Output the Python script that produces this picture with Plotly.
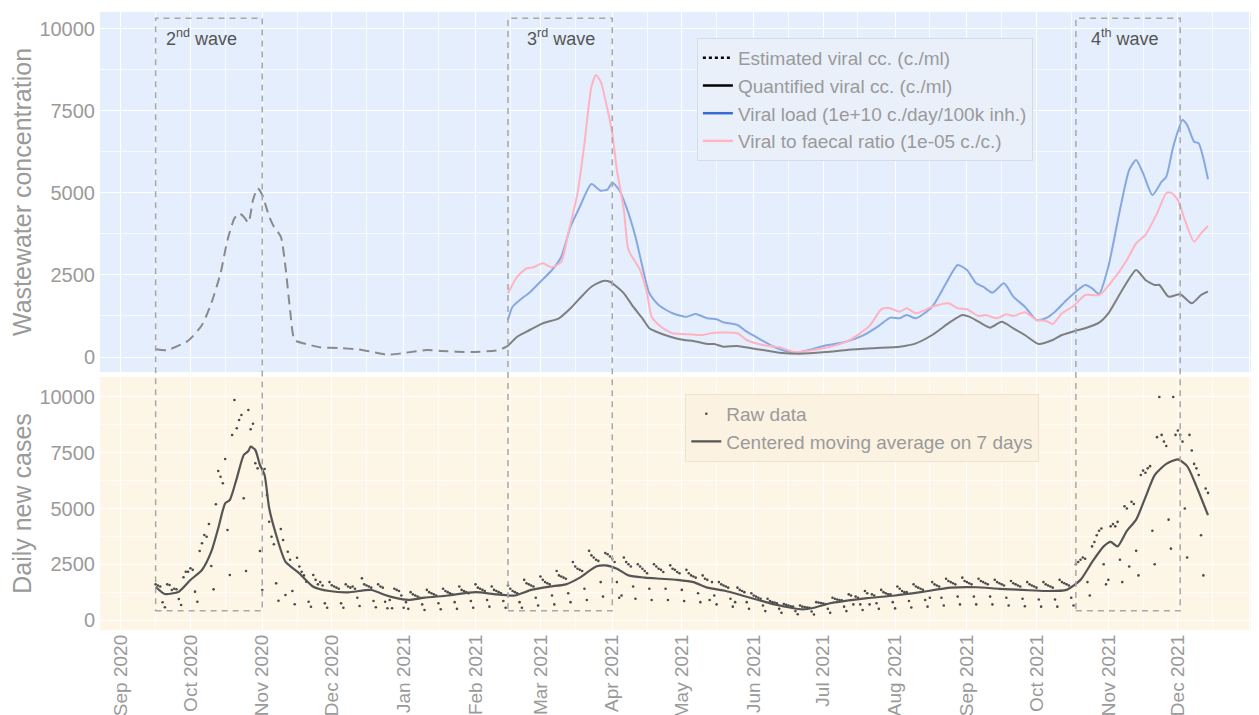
import plotly.graph_objects as go
import pandas as pd

# ---------------- Top panel: wastewater ----------------
est_dates = ["2020-09-16", "2020-09-21", "2020-09-30", "2020-10-06", "2020-10-10", "2020-10-14",
             "2020-10-17", "2020-10-20", "2020-10-22", "2020-10-24", "2020-10-26", "2020-10-28",
             "2020-10-30", "2020-11-01", "2020-11-04", "2020-11-06", "2020-11-09", "2020-11-11",
             "2020-11-13", "2020-11-15", "2020-11-20", "2020-11-26", "2020-12-05", "2020-12-12",
             "2020-12-18", "2020-12-25", "2021-01-02", "2021-01-11", "2021-01-17", "2021-01-30",
             "2021-02-11", "2021-02-15"]
est_vals = [235, 213, 497, 975, 1637, 2552, 3567, 4228, 4380, 4278, 4095, 4787,
            5143, 4939, 4278, 3973, 3668, 2753, 1433, 518, 396, 296, 274, 235,
            162, 70, 131, 213, 183, 152, 213, 340]

quant_dates = ["2021-02-15", "2021-02-19", "2021-02-23", "2021-03-02", "2021-03-09", "2021-03-14",
               "2021-03-18", "2021-03-23", "2021-03-28", "2021-03-31", "2021-04-02", "2021-04-06",
               "2021-04-10", "2021-04-14", "2021-04-17", "2021-04-20", "2021-04-26", "2021-05-02",
               "2021-05-06", "2021-05-12", "2021-05-15", "2021-05-19", "2021-05-25", "2021-05-31",
               "2021-06-05", "2021-06-12", "2021-06-21", "2021-07-02", "2021-07-12", "2021-07-23",
               "2021-08-03", "2021-08-10", "2021-08-17", "2021-08-25", "2021-08-30", "2021-09-02",
               "2021-09-06", "2021-09-11", "2021-09-16", "2021-09-21", "2021-09-26", "2021-10-02",
               "2021-10-08", "2021-10-12", "2021-10-18", "2021-10-22", "2021-10-28", "2021-11-01",
               "2021-11-07", "2021-11-13", "2021-11-17", "2021-11-21", "2021-11-23", "2021-11-27",
               "2021-12-02", "2021-12-07", "2021-12-11", "2021-12-14"]
quant_vals = [340, 619, 771, 1027, 1180, 1485, 1790, 2143, 2317, 2296, 2195, 1942,
              1533, 1180, 875, 771, 619, 518, 488, 396, 396, 314, 335, 265,
              213, 131, 100, 150, 220, 270, 314, 417, 671, 1076, 1280, 1229,
              1076, 893, 1076, 875, 671, 396, 518, 671, 802, 875, 1046, 1332,
              2043, 2652, 2348, 2195, 2195, 1839, 1911, 1637, 1890, 1991]

load_dates = ["2021-02-15", "2021-02-17", "2021-02-21", "2021-02-24", "2021-03-01", "2021-03-06",
              "2021-03-10", "2021-03-14", "2021-03-18", "2021-03-23", "2021-03-27", "2021-03-30",
              "2021-04-01", "2021-04-04", "2021-04-07", "2021-04-11", "2021-04-14", "2021-04-17",
              "2021-04-21", "2021-04-27", "2021-05-03", "2021-05-07", "2021-05-12", "2021-05-16",
              "2021-05-19", "2021-05-25", "2021-05-29", "2021-06-03", "2021-06-09", "2021-06-12",
              "2021-06-19", "2021-07-02", "2021-07-10", "2021-07-18", "2021-07-25", "2021-07-30",
              "2021-08-03", "2021-08-06", "2021-08-10", "2021-08-17", "2021-08-23", "2021-08-28",
              "2021-09-01", "2021-09-05", "2021-09-08", "2021-09-12", "2021-09-17", "2021-09-21",
              "2021-09-26", "2021-10-01", "2021-10-05", "2021-10-09", "2021-10-14", "2021-10-18",
              "2021-10-22", "2021-10-25", "2021-10-28", "2021-11-01", "2021-11-06", "2021-11-10",
              "2021-11-13", "2021-11-16", "2021-11-20", "2021-11-24", "2021-11-26", "2021-11-29",
              "2021-12-03", "2021-12-05", "2021-12-08", "2021-12-10", "2021-12-12", "2021-12-14"]
load_vals = [1128, 1533, 1790, 1942, 2296, 2652, 3058, 3973, 4582, 5274, 5071, 5112,
             5315, 5091, 4582, 3668, 2753, 1942, 1585, 1332, 1229, 1311, 1180, 1149,
             1058, 976, 771, 570, 335, 244, 130, 350, 450, 650, 950, 1200,
             1180, 1280, 1180, 1533, 2247, 2805, 2652, 2247, 2143, 1961, 2247, 1839,
             1533, 1128, 1180, 1381, 1738, 1991, 2195, 2094, 1921, 2753, 4482, 5701,
             6006, 5600, 4939, 5345, 5498, 6412, 7226, 7073, 6564, 6514, 6057, 5417]

ratio_dates = ["2021-02-15", "2021-02-19", "2021-02-23", "2021-02-26", "2021-03-02", "2021-03-06",
               "2021-03-10", "2021-03-13", "2021-03-17", "2021-03-20", "2021-03-23", "2021-03-25",
               "2021-03-27", "2021-03-30", "2021-04-01", "2021-04-03", "2021-04-06", "2021-04-08",
               "2021-04-13", "2021-04-16", "2021-04-18", "2021-04-22", "2021-04-27", "2021-05-04",
               "2021-05-10", "2021-05-15", "2021-05-25", "2021-05-29", "2021-06-05", "2021-06-12",
               "2021-06-19", "2021-07-02", "2021-07-12", "2021-07-21", "2021-07-26", "2021-07-29",
               "2021-08-03", "2021-08-06", "2021-08-10", "2021-08-17", "2021-08-24", "2021-08-28",
               "2021-09-01", "2021-09-06", "2021-09-09", "2021-09-14", "2021-09-18", "2021-09-21",
               "2021-09-26", "2021-10-01", "2021-10-05", "2021-10-08", "2021-10-12", "2021-10-17",
               "2021-10-22", "2021-10-28", "2021-11-03", "2021-11-09", "2021-11-13", "2021-11-17",
               "2021-11-22", "2021-11-26", "2021-11-28", "2021-12-01", "2021-12-04", "2021-12-08",
               "2021-12-11", "2021-12-14"]
ratio_vals = [1942, 2448, 2704, 2735, 2857, 2735, 2905, 3770, 4990, 6514, 8240, 8598,
              8393, 7530, 6819, 5701, 4482, 3262, 2652, 1942, 1229, 924, 722, 692,
              671, 741, 722, 518, 366, 296, 150, 280, 500, 950, 1450, 1500,
              1381, 1485, 1332, 1533, 1637, 1485, 1454, 1250, 1280, 1180, 1301, 1250,
              1363, 1128, 1107, 1006, 1332, 1555, 1890, 1890, 2348, 2957, 3466, 3720,
              4380, 4990, 5010, 4787, 4177, 3516, 3770, 3994]

# ---------------- Bottom panel: daily new cases ----------------
raw_start = "2020-09-16"
raw_weeks = [
    [1600, 1550, 1500, 794, 569],
    [1600, 1570, 1345, 1400, 1380, 942, 673],
    [1914, 2167, 2167, 2318, 2250, 1271, 822],
    [3094, 3440, 3812, 3736, 4305, 2422, 1375],
    [5188, 6682, 6427, 6130, 7220, 4036, 2018],
    [8296, 9865, 8597, 8969, 9193, 5457, 2197],
    [9417, 8551, 8800, 7026, 6800, 3094, 1345],
    [6771, 5600, 4409, 3736, 3400, 1644, 866],
    [4081, 3587, 1121, 3063, 2700, 1300, 704],
    [2795, 2400, 2167, 2000, 1717, 822, 597],
    [2018, 1800, 1600, 1700, 1550, 747, 551],
    [1700, 1560, 1500, 1450, 1400, 747, 551],
    [1600, 1500, 1450, 1500, 1400, 1001, 628],
    [1868, 1600, 1550, 1500, 1450, 852, 569],
    [1600, 1500, 1450, 822, 524, 900, 524],
    [1400, 1350, 1300, 1100, 550, 800, 500],
    [1250, 1150, 1100, 1050, 1000, 700, 450],
    [1350, 1250, 1200, 1150, 1100, 750, 480],
    [1400, 1300, 1250, 1200, 1150, 800, 500],
    [1500, 1350, 1300, 1250, 1200, 850, 550],
    [1600, 1450, 1400, 1350, 1300, 900, 600],
    [1500, 1350, 1300, 1250, 1200, 850, 550],
    [1550, 1400, 1300, 1250, 1200, 800, 550],
    [1800, 1650, 1600, 1550, 1500, 1000, 650],
    [1950, 1800, 1700, 1650, 1600, 1100, 700],
    [2200, 2000, 1950, 1900, 1850, 1200, 800],
    [2600, 2400, 2300, 2250, 2200, 1400, 900],
    [3100, 2900, 2800, 2700, 2650, 1700, 1050],
    [3000, 2950, 2850, 2750, 2600, 1700, 1000],
    [1100, 2800, 2600, 2500, 2400, 1500, 950],
    [2500, 2400, 2300, 2200, 2100, 1400, 900],
    [2500, 2400, 2300, 2250, 2150, 1400, 900],
    [2450, 2300, 2250, 2150, 2100, 1350, 850],
    [2250, 2100, 2000, 1950, 1900, 1200, 800],
    [2000, 1850, 1800, 900, 1700, 1100, 700],
    [1700, 1600, 1550, 1500, 1450, 950, 600],
    [800, 1450, 1350, 1300, 1250, 800, 500],
    [1200, 1100, 1050, 1000, 950, 650, 400],
    [950, 850, 800, 780, 750, 500, 320],
    [720, 680, 650, 620, 600, 400, 260],
    [650, 600, 580, 560, 550, 380, 250],
    [800, 780, 760, 740, 720, 500, 320],
    [1000, 950, 920, 900, 880, 600, 400],
    [1150, 1100, 700, 1050, 1000, 700, 450],
    [1300, 1200, 700, 1150, 1100, 750, 500],
    [1350, 1250, 1200, 1150, 1150, 800, 520],
    [1500, 1400, 1300, 1250, 1250, 850, 560],
    [1600, 1500, 1450, 1400, 1350, 900, 600],
    [1000, 1700, 1600, 1550, 1500, 1000, 650],
    [1850, 1750, 1700, 1650, 1600, 1050, 700],
    [1900, 1750, 1700, 1650, 1600, 1050, 700],
    [1850, 1750, 1700, 1650, 1600, 1050, 700],
    [1800, 1700, 1650, 1600, 1550, 1000, 650],
    [1750, 1650, 1600, 1550, 1500, 950, 620],
    [1700, 1600, 1550, 1500, 1450, 920, 600],
    [1700, 1600, 1550, 1500, 1450, 920, 600],
    [1800, 1700, 1650, 1600, 1550, 1000, 650],
    [2500, 2600, 2700, 2800, 2750, 1700, 1100],
    [3300, 3500, 3800, 4000, 4100, 2500, 1600],
    [1800, 4200, 4300, 4200, 4400, 2700, 1700],
    [5100, 5000, 2400, 5300, 5200, 3100, 2000],
    [6500, 6700, 6600, 6800, 6900, 4000, 2500],
    [8200, 10000, 8300, 8000, 7800, 4500, 3200],
    [10000, 8300, 8500, 8300, 8000, 5000, 2800],
    [8300, 7600, 7000, 6800, 6500, 3800, 2000],
    [5900, 5700],
]

ma_dates = ["2020-09-16", "2020-09-20", "2020-09-26", "2020-10-01", "2020-10-06", "2020-10-10",
            "2020-10-13", "2020-10-16", "2020-10-18", "2020-10-21", "2020-10-24", "2020-10-26",
            "2020-10-27", "2020-10-29", "2020-10-31", "2020-11-02", "2020-11-04", "2020-11-07",
            "2020-11-11", "2020-11-17", "2020-11-23", "2020-11-30", "2020-12-08", "2020-12-18",
            "2020-12-24", "2020-12-28", "2021-01-03", "2021-01-10", "2021-01-20", "2021-02-01",
            "2021-02-10", "2021-02-18", "2021-02-25", "2021-03-05", "2021-03-12", "2021-03-18",
            "2021-03-25", "2021-03-29", "2021-04-03", "2021-04-08", "2021-04-15", "2021-04-22",
            "2021-04-29", "2021-05-06", "2021-05-12", "2021-05-20", "2021-05-27", "2021-06-03",
            "2021-06-10", "2021-06-17", "2021-06-22", "2021-06-27", "2021-07-04", "2021-07-12",
            "2021-07-20", "2021-08-01", "2021-08-12", "2021-08-25", "2021-09-05", "2021-09-15",
            "2021-09-25", "2021-10-05", "2021-10-14", "2021-10-20", "2021-10-25", "2021-10-30",
            "2021-11-02", "2021-11-05", "2021-11-09", "2021-11-13", "2021-11-17", "2021-11-21",
            "2021-11-26", "2021-12-01", "2021-12-05", "2021-12-09", "2021-12-14"]
ma_vals = [1495, 1166, 1271, 1794, 2242, 3063, 4112, 5232, 5381, 6354, 7399, 7578,
           7772, 7623, 6951, 6502, 5008, 3812, 2616, 2092, 1495, 1300, 1241, 1345,
           1121, 1001, 900, 1000, 1100, 1250, 1150, 1100, 1350, 1500, 1600, 1900,
           2400, 2450, 2300, 2000, 1900, 1850, 1800, 1700, 1450, 1300, 1100, 900,
           700, 550, 480, 550, 750, 880, 980, 1100, 1250, 1450, 1470, 1400,
           1350, 1300, 1350, 1800, 2600, 3300, 3500, 3300, 4000, 4500, 5500, 6500,
           7000, 7200, 6900, 6000, 4700]

# wave windows
wave_labels = ["2<sup>nd</sup> wave", "3<sup>rd</sup> wave", "4<sup>th</sup> wave"]
wave_starts = ["2020-09-16", "2021-02-15", "2021-10-18"]
wave_ends = ["2020-11-01", "2021-04-01", "2021-12-02"]
wave_label_x = ["2020-10-06", "2021-03-10", "2021-11-08"]

y_ticks = [0, 2500, 5000, 7500, 10000]
y_ticklabels = ["0", "2500", "5000", "7500", "10000"]

month_ticks = pd.date_range("2020-09-01", "2022-01-01", freq="MS")
mid_months = pd.date_range("2020-08-01", "2022-01-01", freq="MS") + pd.Timedelta(days=15)

raw_vals = [v for w in raw_weeks for v in w]
raw_dates = pd.date_range(raw_start, periods=len(raw_vals), freq="D")

FONT = "Liberation Sans, Arial, sans-serif"
GREY_TXT = "#9a9a9a"

fig = go.Figure()

# top panel traces
fig.add_trace(go.Scatter(x=est_dates, y=est_vals, mode="lines", showlegend=False,
                         line=dict(color="#8a8a8a", width=2, dash="10px,6px", shape="spline", smoothing=0.6),
                         xaxis="x", yaxis="y"))
fig.add_trace(go.Scatter(x=load_dates, y=load_vals, mode="lines", showlegend=False,
                         line=dict(color="#86a8e2", width=2, shape="spline", smoothing=0.6),
                         xaxis="x", yaxis="y"))
fig.add_trace(go.Scatter(x=ratio_dates, y=ratio_vals, mode="lines", showlegend=False,
                         line=dict(color="#ffb3c1", width=2, shape="spline", smoothing=0.6),
                         xaxis="x", yaxis="y"))
fig.add_trace(go.Scatter(x=quant_dates, y=quant_vals, mode="lines", showlegend=False,
                         line=dict(color="#7f7f7f", width=2, shape="spline", smoothing=0.6),
                         xaxis="x", yaxis="y"))

# top legend entries
leg1 = [("Estimated viral cc. (c./ml)", "black", "dot"),
        ("Quantified viral cc. (c./ml)", "black", "solid"),
        ("Viral load (1e+10 c./day/100k inh.)", "#3a6bd0", "solid"),
        ("Viral to faecal ratio (1e-05 c./c.)", "#ffb6c1", "solid")]
for name, col, dash in leg1:
    fig.add_trace(go.Scatter(x=[None], y=[None], mode="lines", name=name, legend="legend",
                             line=dict(color=col, width=2.5, dash=dash), xaxis="x", yaxis="y"))

# bottom panel traces
fig.add_trace(go.Scatter(x=raw_dates, y=raw_vals, mode="markers", name="Raw data", legend="legend2",
                         marker=dict(color="#4a4a4a", size=2.6), xaxis="x2", yaxis="y2"))
fig.add_trace(go.Scatter(x=ma_dates, y=ma_vals, mode="lines", name="Centered moving average on 7 days",
                         legend="legend2", line=dict(color="#555555", width=2.2, shape="spline", smoothing=0.6),
                         xaxis="x2", yaxis="y2"))

shapes = [
    dict(type="rect", xref="x domain", yref="y domain", x0=0, x1=1, y0=0, y1=1,
         fillcolor="#e4eefc", line=dict(width=0), layer="below"),
    dict(type="rect", xref="x2 domain", yref="y2 domain", x0=0, x1=1, y0=0, y1=1,
         fillcolor="#fdf5e6", line=dict(width=0), layer="below"),
]
for s, e in zip(wave_starts, wave_ends):
    shapes.append(dict(type="rect", xref="x", yref="paper", x0=s, x1=e, y0=0.031, y1=0.990,
                       line=dict(color="#a8a8a8", width=1.5, dash="6px,5px"),
                       fillcolor="rgba(0,0,0,0)", layer="above"))

annotations = []
for lab, xx in zip(wave_labels, wave_label_x):
    annotations.append(dict(text=lab, x=xx, y=0.9595, xref="x", yref="paper", showarrow=False,
                            xanchor="center", yanchor="middle",
                            font=dict(family=FONT, size=18, color="#555555")))

xcommon = dict(type="date", range=["2020-08-23", "2022-01-05"], tickmode="array",
               tickvals=month_ticks, ticktext=[d.strftime("%b %Y") for d in month_ticks],
               showgrid=True, gridcolor="white", gridwidth=1.4, zeroline=False, showline=False,
               ticks="", automargin=False,
               minor=dict(tickmode="array", tickvals=mid_months, showgrid=True,
                          gridcolor="rgba(255,255,255,0.7)", gridwidth=0.7))
ycommon = dict(showgrid=True, gridcolor="white", gridwidth=1.4, zeroline=False, showline=False,
               ticks="", tickmode="array", tickvals=y_ticks, ticktext=y_ticklabels,
               automargin=False, ticklabelstandoff=4,
               tickfont=dict(family=FONT, size=20, color=GREY_TXT),
               minor=dict(tickmode="array", tickvals=[1250, 3750, 6250, 8750], showgrid=True,
                          gridcolor="rgba(255,255,255,0.7)", gridwidth=0.7))

# the page body adds an 8px offset; size the figure so the plot area lands at x 100-1259, y 12-630
fig.update_layout(
    width=1251, height=707,
    margin=dict(l=92, r=0, t=4, b=85, autoexpand=False),
    paper_bgcolor="white", plot_bgcolor="rgba(0,0,0,0)",
    font=dict(family=FONT, color=GREY_TXT),
    xaxis=dict(xcommon, anchor="y", matches="x2", showticklabels=False),
    xaxis2=dict(xcommon, anchor="y2", showticklabels=True, tickangle=-90, ticklabelstandoff=0,
                tickfont=dict(family=FONT, size=19, color=GREY_TXT)),
    yaxis=dict(ycommon, domain=[0.4175, 1.0], range=[-457, 10518],
               title=dict(text="Wastewater concentration", standoff=3,
                          font=dict(family=FONT, size=25, color=GREY_TXT))),
    yaxis2=dict(ycommon, domain=[0.0, 0.4094], range=[-448, 10897],
                title=dict(text="Daily new cases", standoff=3,
                           font=dict(family=FONT, size=25, color=GREY_TXT))),
    legend=dict(x=0.515, y=0.958, xanchor="left", yanchor="top", bgcolor="#e9f0fa",
                bordercolor="#d6dce6", borderwidth=1, itemwidth=30,
                font=dict(family=FONT, size=19, color=GREY_TXT), tracegroupgap=0),
    legend2=dict(x=0.505, y=0.382, xanchor="left", yanchor="top", bgcolor="#fbf2e2",
                 bordercolor="#ece3d2", borderwidth=1, itemwidth=30,
                 font=dict(family=FONT, size=19, color=GREY_TXT)),
    shapes=shapes, annotations=annotations,
)

fig.write_html("out.html")
